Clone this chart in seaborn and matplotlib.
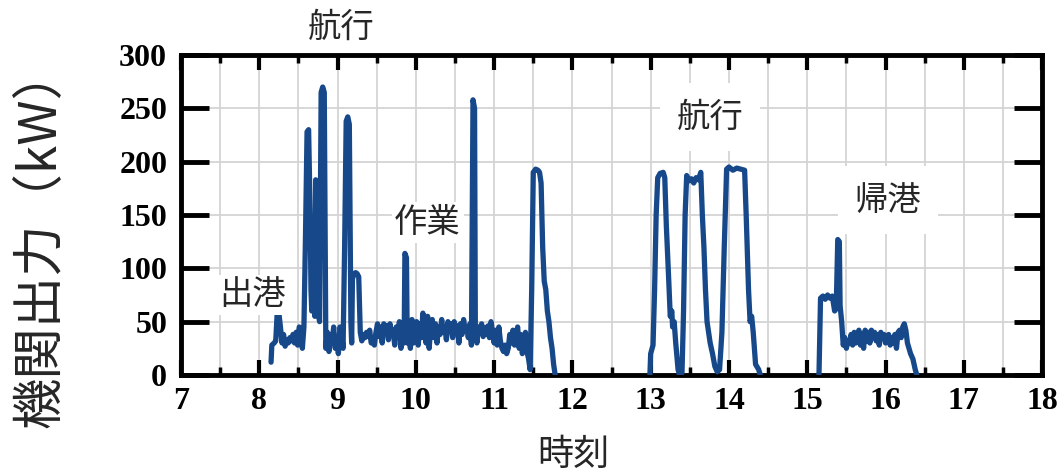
import numpy as np
import pandas as pd
import matplotlib
matplotlib.use("Agg")
import matplotlib.pyplot as plt
from matplotlib.ticker import MultipleLocator
import seaborn as sns

# ==========================================
# Data
# ==========================================
# segment 1: departure + fishing work (8:09 - 11:47)
t_seg1 = [8.15, 8.16, 8.19, 8.21, 8.23, 8.25, 8.27, 8.29, 8.31, 8.33, 8.35, 8.37, 8.39, 8.41,
          8.43, 8.45, 8.47, 8.49, 8.51, 8.53, 8.55, 8.57, 8.59, 8.61, 8.63, 8.65, 8.66, 8.67,
          8.69, 8.71, 8.72, 8.74, 8.75, 8.77, 8.79, 8.81, 8.83, 8.84, 8.85, 8.87, 8.89, 8.91,
          8.93, 8.95, 8.97, 8.99, 9.01, 9.03, 9.05, 9.07, 9.09, 9.11, 9.13, 9.15, 9.17, 9.18,
          9.19, 9.21, 9.23, 9.25, 9.27, 9.29, 9.31, 9.33, 9.35, 9.37, 9.39, 9.41, 9.43, 9.45,
          9.47, 9.49, 9.51, 9.53, 9.55, 9.57, 9.59, 9.61, 9.63, 9.65, 9.67, 9.69, 9.71, 9.73,
          9.75, 9.77, 9.79, 9.81, 9.83, 9.85, 9.86, 9.88, 9.89, 9.91, 9.93, 9.95, 9.97, 9.99,
          10.01, 10.03, 10.05, 10.07, 10.09, 10.11, 10.13, 10.15, 10.17, 10.19, 10.21, 10.23,
          10.25, 10.27, 10.29, 10.31, 10.33, 10.35, 10.37, 10.39, 10.41, 10.43, 10.45, 10.47,
          10.49, 10.51, 10.53, 10.55, 10.57, 10.59, 10.61, 10.63, 10.65, 10.67, 10.69, 10.71,
          10.73, 10.75, 10.76, 10.78, 10.80, 10.82, 10.84, 10.86, 10.88, 10.90, 10.92, 10.94,
          10.96, 10.98, 11.00, 11.02, 11.04, 11.06, 11.08, 11.10, 11.12, 11.14, 11.16, 11.18,
          11.20, 11.22, 11.24, 11.26, 11.28, 11.30, 11.32, 11.34, 11.36, 11.38, 11.40, 11.42,
          11.44, 11.46, 11.48, 11.50, 11.53, 11.56, 11.58, 11.60, 11.62, 11.64, 11.66, 11.68,
          11.70, 11.72, 11.74, 11.76, 11.78]
p_seg1 = [12, 28, 30, 32, 60, 58, 45, 30, 38, 27, 33, 30, 35, 32,
          38, 30, 40, 28, 45, 42, 25, 45, 130, 228, 230, 150, 80, 60,
          110, 55, 183, 180, 60, 50, 265, 270, 265, 150, 25, 40, 22, 38,
          30, 45, 25, 35, 20, 45, 40, 25, 120, 238, 242, 235, 50, 30,
          90, 95, 96, 95, 92, 40, 32, 38, 35, 40, 36, 42, 30, 35,
          28, 40, 48, 36, 45, 30, 48, 40, 46, 33, 48, 38, 42, 28,
          45, 38, 50, 25, 44, 30, 114, 110, 30, 48, 25, 52, 30, 45,
          50, 28, 48, 35, 58, 40, 30, 55, 25, 45, 52, 35,
          48, 30, 45, 38, 52, 40, 45, 33, 50, 42, 48, 35,
          50, 40, 46, 30, 48, 38, 52, 42, 45, 35, 48, 28,
          258, 250, 40, 30, 45, 40, 48, 36, 44, 38, 46, 35,
          50, 40, 30, 42, 28, 45, 32, 25, 22, 28, 20, 25,
          38, 30, 42, 28, 35, 45, 25, 38, 20, 28, 40, 22,
          15, 5, 80, 190, 193, 192, 190, 180, 120, 88, 80, 60,
          50, 35, 25, 10, 0]

# segment 2: transit (12:59 - 14:24)
t_seg2 = [12.99, 13.00, 13.03, 13.05, 13.07, 13.09, 13.12, 13.16, 13.18, 13.20, 13.23, 13.25,
          13.27, 13.28, 13.30, 13.32, 13.35, 13.37, 13.40, 13.42, 13.44, 13.46, 13.49, 13.52,
          13.55, 13.58, 13.61, 13.64, 13.66, 13.68, 13.70, 13.72, 13.74, 13.76, 13.79, 13.82,
          13.85, 13.88, 13.91, 13.94, 13.97, 14.00, 14.05, 14.10, 14.15, 14.20, 14.22, 14.25,
          14.27, 14.29, 14.31, 14.34, 14.38, 14.40]
p_seg2 = [0, 20, 28, 80, 150, 185, 189, 190, 185, 140, 90, 55,
          60, 45, 50, 30, 5, 0, 2, 60, 150, 187, 182, 184,
          180, 185, 183, 190, 150, 120, 80, 50, 40, 30, 20, 8,
          3, 5, 40, 120, 193, 195, 192, 194, 193, 192, 150, 80,
          50, 55, 40, 10, 5, 0]

# segment 3: return to port (15:09 - 16:24)
t_seg3 = [15.15, 15.17, 15.20, 15.23, 15.26, 15.29, 15.32, 15.35, 15.37, 15.39, 15.41, 15.42,
          15.44, 15.46, 15.48, 15.50, 15.52, 15.54, 15.56, 15.58, 15.60, 15.62, 15.64, 15.66,
          15.68, 15.70, 15.72, 15.74, 15.76, 15.78, 15.80, 15.82, 15.84, 15.86, 15.88, 15.90,
          15.92, 15.94, 15.96, 15.98, 16.00, 16.02, 16.04, 16.06, 16.08, 16.10, 16.12, 16.14,
          16.16, 16.18, 16.20, 16.22, 16.24, 16.26, 16.28, 16.30, 16.32, 16.35, 16.38, 16.40]
p_seg3 = [0, 72, 74, 71, 75, 72, 74, 60, 62, 127, 125, 65,
          50, 28, 35, 25, 32, 30, 38, 28, 40, 30, 35, 42,
          28, 38, 25, 42, 32, 40, 30, 42, 35, 40, 32, 38,
          28, 40, 35, 38, 30, 36, 38, 28, 35, 30, 38, 25,
          40, 42, 35, 45, 48, 42, 30, 25, 20, 15, 5, 0]

x_ticks = list(range(7, 19))
y_ticks = [0, 50, 100, 150, 200, 250, 300]

# labels: (text, time, kW, box padding)
notes = [("航行", 9.04, 326, 2), ("出港", 7.92, 75, 2), ("作業", 10.15, 143, 2),
         ("航行", 13.76, 242, 12), ("帰港", 16.03, 164, 12)]

df = pd.concat([
    pd.DataFrame({"time": t_seg1, "power": p_seg1, "seg": 1}),
    pd.DataFrame({"time": t_seg2, "power": p_seg2, "seg": 2}),
    pd.DataFrame({"time": t_seg3, "power": p_seg3, "seg": 3}),
])

# ==========================================
# Plot
# ==========================================
sns.set_style("white")
plt.rcParams['font.family'] = ['Noto Sans CJK JP', 'DejaVu Sans']

fig = plt.figure(figsize=(10.63, 4.74), dpi=100)
ax = fig.add_axes([0.1703, 0.2089, 0.810, 0.675])

sns.lineplot(data=df, x="time", y="power", units="seg", estimator=None, sort=False,
             color="#17498a", linewidth=3.8, ax=ax, zorder=3)

ax.set_xlim(7, 18)
ax.set_ylim(0, 300)
ax.set_xticks(x_ticks)
ax.xaxis.set_minor_locator(MultipleLocator(0.5))
ax.set_yticks(y_ticks)
ax.grid(True, which="both", color="#d4d4d4", linewidth=1.3, zorder=0)
ax.set_axisbelow(True)

ax.tick_params(axis="x", which="major", direction="in", length=11, width=3,
               top=True, bottom=True, pad=9, color="black", labelcolor="black")
ax.tick_params(axis="x", which="minor", direction="in", length=6, width=2.5,
               top=True, bottom=True, color="black")
ax.tick_params(axis="y", which="major", direction="in", length=20, width=3.5,
               left=True, right=True, pad=10, color="black", labelcolor="black")
for lab in ax.get_xticklabels() + ax.get_yticklabels():
    lab.set_fontfamily("Liberation Serif")
    lab.set_fontweight("bold")
    lab.set_fontsize(23)

for s in ax.spines.values():
    s.set_color("black")
    s.set_linewidth(3.5)
    s.set_visible(True)

ax.set_xlabel("")
ax.set_ylabel("")
fig.text(0.038, 0.50, "機関出力（kW）", rotation=90, ha="center", va="center", fontsize=37)
fig.text(0.539, 0.04, "時刻", ha="center", va="center", fontsize=26)

for txt, tx, ty, bp in notes:
    ax.text(tx, ty, txt, ha="center", va="center", fontsize=24, zorder=4, clip_on=False,
            bbox=dict(facecolor="white", edgecolor="none", pad=bp))

fig.savefig("out.png", dpi=100)
